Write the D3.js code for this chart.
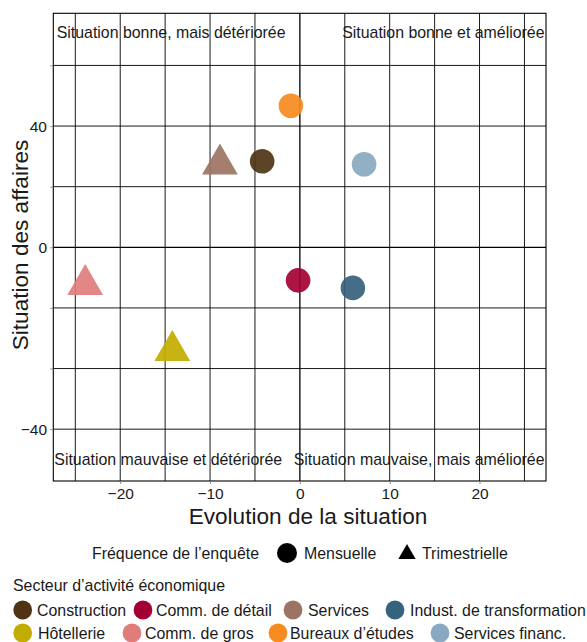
<!DOCTYPE html>
<html><head><meta charset="utf-8">
<script src="https://cdn.jsdelivr.net/npm/d3@7"></script>
<style>
body{margin:0;background:#fff}
svg{display:block}
text{font-family:"Liberation Sans",Arial,Helvetica,sans-serif}
</style>
</head><body>
<svg id="c" width="587" height="642"></svg>
<script>
// ---------- data ----------
const categories = ["Construction", "Comm. de détail", "Services", "Indust. de transformation",
                    "Hôtellerie", "Comm. de gros", "Bureaux d’études", "Services financ."];
const evolution  = [-4.2, -0.2, -8.9, 5.9, -14.2, -23.9, -1.0, 7.15];   // x
const situation  = [28.4, -10.9, 27.4, -13.4, -34.1, -12.3, 46.7, 27.4]; // y
const frequency  = ["Mensuelle", "Mensuelle", "Trimestrielle", "Mensuelle",
                    "Trimestrielle", "Trimestrielle", "Mensuelle", "Mensuelle"];
const frequencyLevels = ["Mensuelle", "Trimestrielle"];
const xTickValues = [-20, -10, 0, 10, 20];
const xGridValues = [-25, -20, -15, -10, -5, 0, 5, 10, 15, 20, 25];
const yGridValues = [-60, -40, -20, 0, 20, 40, 60];
const yTickValues = [40, 0, -60];
const yTickLabels = ["40", "0", "−40"];
const quadrantLabels = ["Situation bonne, mais détériorée", "Situation bonne et améliorée",
                        "Situation mauvaise et détériorée", "Situation mauvaise, mais améliorée"];

// ---------- styles ----------
const palette = ["#4E3413", "#A30134", "#9C7463", "#35627C", "#C3AC00", "#E07D7B", "#F68B1F", "#88A9C1"];
const P = {l: 53.3, r: 546, t: 13.3, b: 481};
const xDomain = [-27.45, 27.4];
const yDomain = [-77.1, 77.2];
const FS_TICK = 15.5, FS_TITLE = 22.6, FS_LAB = 15.9, FS_LEG = 15.9;

const svg = d3.select("#c");
const x = d3.scaleLinear().domain(xDomain).range([P.l, P.r]);
const y = d3.scaleLinear().domain(yDomain).range([P.b, P.t]);

// grid
const grid = svg.append("g");
grid.selectAll("line.gx").data(xGridValues).join("line")
  .attr("x1", d => x(d)).attr("x2", d => x(d)).attr("y1", P.t).attr("y2", P.b)
  .attr("stroke", "#000").attr("stroke-width", d => d === 0 ? 1.3 : 0.9);
grid.selectAll("line.gy").data(yGridValues).join("line")
  .attr("y1", d => y(d)).attr("y2", d => y(d)).attr("x1", P.l).attr("x2", P.r)
  .attr("stroke", "#000").attr("stroke-width", d => d === 0 ? 1.3 : 0.9);

// quadrant labels
const ql = svg.append("g").attr("font-size", FS_LAB).attr("fill", "#1a1a1a");
ql.append("text").attr("x", P.l + 3.4).attr("y", P.t + 25).text(quadrantLabels[0]);
ql.append("text").attr("x", P.r - 1.5).attr("y", P.t + 25).attr("text-anchor", "end").text(quadrantLabels[1]);
ql.append("text").attr("x", P.l + 1).attr("y", P.b - 16).text(quadrantLabels[2]);
ql.append("text").attr("x", P.r - 1.5).attr("y", P.b - 16).attr("text-anchor", "end").text(quadrantLabels[3]);

// points
const data = categories.map((c, i) => ({c, x: evolution[i], y: situation[i], f: frequency[i], col: palette[i]}));
const sym = d => d.f === "Mensuelle" ? d3.symbol(d3.symbolCircle, 475)() : d3.symbol(d3.symbolTriangle, 555)();
svg.append("g").selectAll("path").data(data).join("path")
  .attr("d", sym)
  .attr("transform", d => `translate(${x(d.x)},${y(d.y)})`)
  .attr("fill", d => d.col).attr("fill-opacity", 0.92);

// panel border
svg.append("rect").attr("x", P.l).attr("y", P.t).attr("width", P.r - P.l).attr("height", P.b - P.t)
  .attr("fill", "none").attr("stroke", "#000").attr("stroke-width", 1.1);

// axes
const ax = svg.append("g").attr("transform", `translate(0,${P.b})`)
  .call(d3.axisBottom(x).tickValues(xTickValues).tickSize(3).tickPadding(3.5));
const ay = svg.append("g").attr("transform", `translate(${P.l},0)`)
  .call(d3.axisLeft(y).tickValues(yGridValues).tickSize(3).tickPadding(3.3)
    .tickFormat(d => { const k = yTickValues.indexOf(d); return k >= 0 ? yTickLabels[k] : ""; }));
[ax, ay].forEach(a => {
  a.select(".domain").remove();
  a.selectAll(".tick line").attr("stroke", "#8a8a8a");
  a.selectAll(".tick text").attr("font-size", FS_TICK).attr("fill", "#1a1a1a")
    .attr("font-family", "'Liberation Sans', Arial, sans-serif");
});

// axis titles
svg.append("text").attr("x", 308).attr("y", 524).attr("text-anchor", "middle")
  .attr("font-size", FS_TITLE).attr("fill", "#1a1a1a").text("Evolution de la situation");
svg.append("text").attr("transform", "translate(28,245) rotate(-90)").attr("text-anchor", "middle")
  .attr("font-size", FS_TITLE).attr("fill", "#1a1a1a").text("Situation des affaires");

// legends
const leg = svg.append("g").attr("font-size", FS_LEG).attr("fill", "#1a1a1a");
leg.append("text").attr("x", 92).attr("y", 558.5).text("Fréquence de l’enquête");
const freqKeyX = [287, 407], freqTextX = [304, 422];
frequencyLevels.forEach((f, i) => {
  leg.append("path").attr("d", f === "Mensuelle" ? d3.symbol(d3.symbolCircle, 314)() : d3.symbol(d3.symbolTriangle, 130)())
    .attr("transform", `translate(${freqKeyX[i]},${f === "Mensuelle" ? 553 : 554})`).attr("fill", "#000");
  leg.append("text").attr("x", freqTextX[i]).attr("y", 558.5).text(f);
});
leg.append("text").attr("x", 13).attr("y", 590.5).text("Secteur d’activité économique");
const keyX = [22.7, 143, 293, 395, 22.7, 132, 278, 440];
const keyTextX = [37, 156, 308, 410, 38, 145, 290, 454];
const keyY = [610, 610, 610, 610, 633, 633, 633, 633];
categories.forEach((c, i) => {
  leg.append("circle").attr("cx", keyX[i]).attr("cy", keyY[i]).attr("r", 9.4).attr("fill", palette[i]);
  leg.append("text").attr("x", keyTextX[i]).attr("y", keyY[i] + 5.5).text(c);
});
</script>
</body></html>
